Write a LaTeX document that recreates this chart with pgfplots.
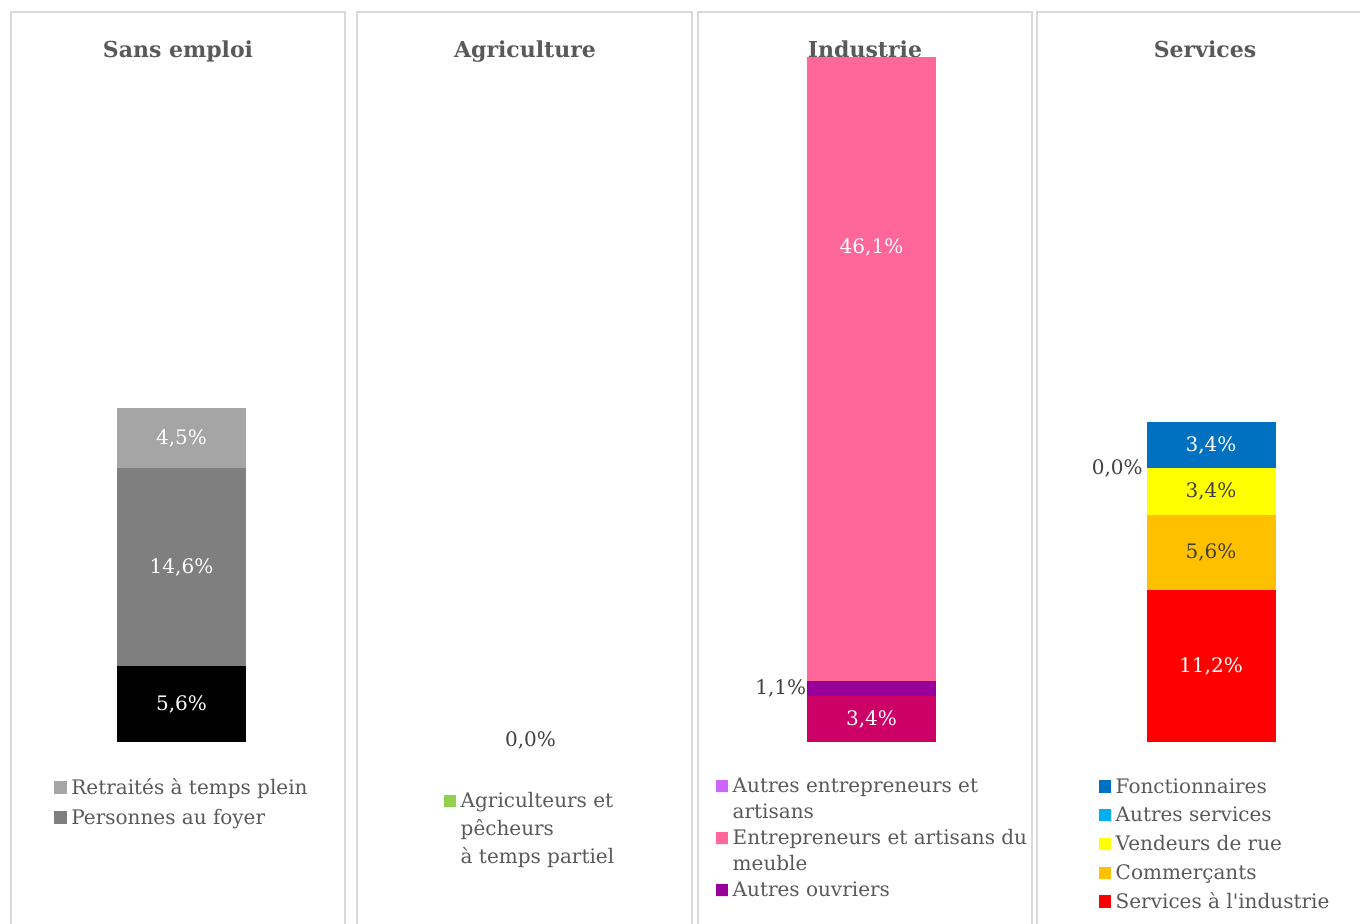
\documentclass[border=0pt]{standalone}
\usepackage{pgfplots}
\pgfplotsset{compat=1.18}
\usepackage{fontspec}
\setmainfont{DejaVu Serif}
\definecolor{cBlack}{HTML}{000000}
\definecolor{cGray}{HTML}{7F7F7F}
\definecolor{cLGray}{HTML}{A5A5A5}
\definecolor{cGreen}{HTML}{92D050}
\definecolor{cLPurple}{HTML}{CC66FF}
\definecolor{cPink}{HTML}{FF6699}
\definecolor{cPurple}{HTML}{990099}
\definecolor{cDPink}{HTML}{CC0066}
\definecolor{cBlue}{HTML}{0070C0}
\definecolor{cCyan}{HTML}{00B0F0}
\definecolor{cYellow}{HTML}{FFFF00}
\definecolor{cOrange}{HTML}{FFC000}
\definecolor{cRed}{HTML}{FF0000}
\definecolor{textgray}{HTML}{595959}
\definecolor{labdark}{HTML}{404040}
\definecolor{framegray}{HTML}{D9D9D9}
\newcommand\lblfont{\fontsize{10}{12}\selectfont}
\newcommand\titlefont{\fontsize{11}{13}\selectfont\bfseries}
\pgfplotsset{
  panel/.style={hide axis, scale only axis, clip=false, x=0.5pt, y=6.77pt,
    xmin=0, xmax=334, ymin=0, ymax=52, anchor=south west},
  bars/.style={panel, ybar stacked, bar width=64.5pt},
  sqleg/.style={legend image code/.code={\path (0pt,0.2pt) -- (6.5pt,0.2pt); \fill[##1] (0pt,0.2pt) rectangle (6.2pt,6.4pt);}},
  legbase/.style={legend style={anchor=north west, draw=none, fill=none, inner sep=0pt,
    row sep={#1,between origins}, column sep=0pt,
    cells={anchor=base west, inner sep=0pt, text height=8pt},
    font=\color{textgray}\fontsize{10}{12}\selectfont}},
  lab/.style={draw=none, nodes near coords, point meta=explicit symbolic,
    every node near coord/.append style={anchor=center, font=\lblfont, text=#1}},
  labout/.style={draw=none, nodes near coords, point meta=explicit symbolic,
    every node near coord/.append style={anchor=east, inner sep=0pt, font=\lblfont, text=labdark}},
}
\begin{document}
\begin{tikzpicture}
\path[use as bounding box] (0pt,0pt) rectangle (680pt,-462pt);
\clip (0pt,0pt) rectangle (680pt,-462pt);
\begin{scope}[x=0.5pt,y=-0.5pt]
  \draw[framegray, line width=1pt] (11,12) rectangle (345,940);
  \draw[framegray, line width=1pt] (357,12) rectangle (692,940);
  \draw[framegray, line width=1pt] (698,12) rectangle (1032,940);
  \draw[framegray, line width=1pt] (1037,12) rectangle (1372,940);
  \node[text=textgray, font=\titlefont, anchor=base] at (178,57.5) {Sans emploi};
  \node[text=textgray, font=\titlefont, anchor=base] at (525,57.5) {Agriculture};
  \node[text=textgray, font=\titlefont, anchor=base] at (865,57.5) {Industrie};
  \node[text=textgray, font=\titlefont, anchor=base] at (1205,57.5) {Services};
\end{scope}

% ---------- Sans emploi ----------
\begin{axis}[bars, at={(5.5pt,-371pt)}]
\addplot[fill=cBlack, draw=none, forget plot] coordinates {(170.5,5.6)};
\addplot[fill=cGray, draw=none, forget plot] coordinates {(170.5,14.6)};
\addplot[fill=cLGray, draw=none, forget plot] coordinates {(170.5,4.5)};
\end{axis}
\begin{axis}[panel, at={(5.5pt,-371pt)}, legbase=15pt,
  legend style={at={(0.1287,-0.0451)}}]
\addplot[lab=white, forget plot] coordinates {(170.5,2.8) [5,6\%] (170.5,12.9) [14,6\%] (170.5,22.45) [4,5\%]};
\addlegendimage{sqleg, fill=cLGray, draw=none}\addlegendentry{Retraités à temps plein}
\addlegendimage{sqleg, fill=cGray, draw=none}\addlegendentry{Personnes au foyer}
\end{axis}

% ---------- Agriculture ----------
\begin{axis}[bars, at={(178.5pt,-371pt)}]
\addplot[fill=cGreen, draw=none, forget plot] coordinates {(173.5,0)};
\end{axis}
\begin{axis}[panel, at={(178.5pt,-371pt)}, legbase=14pt,
  legend style={at={(0.2584,-0.0642)}}]
\addplot[lab=labdark, forget plot] coordinates {(173.5,0.15) [0,0\%]};
\addlegendimage{sqleg, fill=cGreen, draw=none}\addlegendentry{Agriculteurs et}
\addlegendimage{empty legend}\addlegendentry{pêcheurs}
\addlegendimage{empty legend}\addlegendentry{à temps partiel}
\end{axis}

% ---------- Industrie ----------
\begin{axis}[bars, at={(349pt,-371pt)}]
\addplot[fill=cDPink, draw=none, forget plot] coordinates {(173.5,3.4)};
\addplot[fill=cPurple, draw=none, forget plot] coordinates {(173.5,1.1)};
\addplot[fill=cPink, draw=none, forget plot] coordinates {(173.5,46.1)};
\addplot[fill=cLPurple, draw=none, forget plot] coordinates {(173.5,0)};
\end{axis}
\begin{axis}[panel, at={(349pt,-371pt)}, legbase=13pt,
  legend style={at={(0.0518,-0.0429)}}]
\addplot[lab=white, forget plot] coordinates {(173.5,1.7) [3,4\%] (173.5,36.5) [46,1\%]};
\addplot[labout, forget plot] coordinates {(108.5,3.95) [1,1\%]};
\addlegendimage{sqleg, fill=cLPurple, draw=none}\addlegendentry{Autres entrepreneurs et}
\addlegendimage{empty legend}\addlegendentry{artisans}
\addlegendimage{sqleg, fill=cPink, draw=none}\addlegendentry{Entrepreneurs et artisans du}
\addlegendimage{empty legend}\addlegendentry{meuble}
\addlegendimage{sqleg, fill=cPurple, draw=none}\addlegendentry{Autres ouvriers}
\end{axis}

% ---------- Services ----------
\begin{axis}[bars, at={(518.5pt,-371pt)}]
\addplot[fill=cRed, draw=none, forget plot] coordinates {(174,11.2)};
\addplot[fill=cOrange, draw=none, forget plot] coordinates {(174,5.6)};
\addplot[fill=cYellow, draw=none, forget plot] coordinates {(174,3.4)};
\addplot[fill=cCyan, draw=none, forget plot] coordinates {(174,0)};
\addplot[fill=cBlue, draw=none, forget plot] coordinates {(174,3.4)};
\end{axis}
\begin{axis}[panel, at={(518.5pt,-371pt)}, legbase=14.4pt,
  legend style={at={(0.1835,-0.0436)}}]
\addplot[lab=white, forget plot] coordinates {(174,5.6) [11,2\%] (174,21.9) [3,4\%]};
\addplot[lab=labdark, forget plot] coordinates {(174,14.0) [5,6\%] (174,18.5) [3,4\%]};
\addplot[labout, forget plot] coordinates {(106,20.2) [0,0\%]};
\addlegendimage{sqleg, fill=cBlue, draw=none}\addlegendentry{Fonctionnaires}
\addlegendimage{sqleg, fill=cCyan, draw=none}\addlegendentry{Autres services}
\addlegendimage{sqleg, fill=cYellow, draw=none}\addlegendentry{Vendeurs de rue}
\addlegendimage{sqleg, fill=cOrange, draw=none}\addlegendentry{Commerçants}
\addlegendimage{sqleg, fill=cRed, draw=none}\addlegendentry{Services à l\textquotesingle industrie}
\end{axis}
\end{tikzpicture}
\end{document}
